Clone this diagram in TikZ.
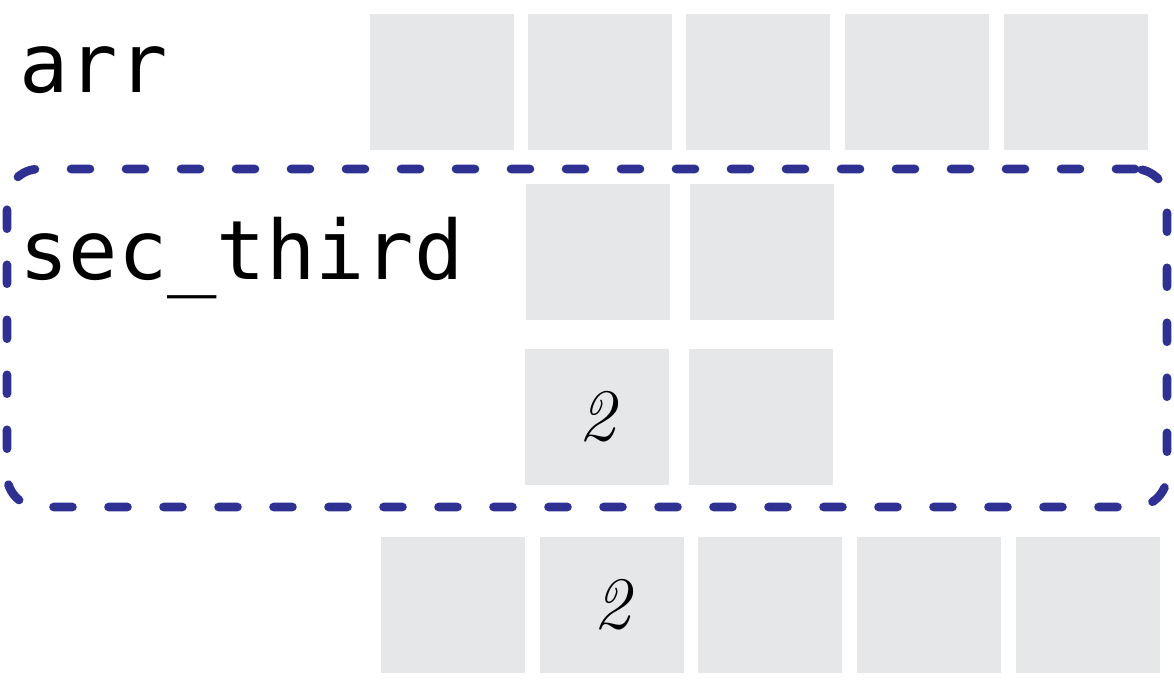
\documentclass[tikz,border=0pt]{standalone}
\usepackage{fontspec}
\setmonofont{DejaVu Sans Mono}
\usepackage{tikz}

\begin{document}
\begin{tikzpicture}
		[x=0.5pt,y=-0.5pt,line cap=round,
		%Styles
		cell/.style={fill=cellgray,minimum width=72pt,minimum height=68pt,inner sep=0pt,
			font=\fontsize{37}{40}\selectfont\itshape},
		name text/.style={anchor=base west,inner sep=0pt,font=\ttfamily\fontsize{41}{48}\selectfont},
		sec frame/.style={draw=framblue,line width=4.3pt,dash pattern=on 9.5pt off 18pt,
			rounded corners=16pt,minimum width=580pt,minimum height=169pt,inner sep=0pt}
		]
		
		%Colors
		\definecolor{cellgray}{HTML}{E6E7E9}
		\definecolor{framblue}{HTML}{2E3192}
		
		\useasboundingbox (0,0) rectangle (1174,688);
		
		%The graphic
		\node[name text] (arr) at (19,93) {arr};
		\node[cell] (a0) at (442,82) {};
		\node[cell] (a1) at (600,82) {};
		\node[cell] (a2) at (758,82) {};
		\node[cell] (a3) at (917,82) {};
		\node[cell] (a4) at (1076,82) {};
		
		\node[sec frame] (sec) at (587,338) {};
		\node[name text] (secname) at (19,280) {sec\_third};
		\node[cell] (s00) at (598,252) {};
		\node[cell] (s01) at (762,252) {};
		\node[cell] (s10) at (597,417) {2};
		\node[cell] (s11) at (761,417) {};
		
		\node[cell] (b0) at (453,605) {};
		\node[cell] (b1) at (612,605) {2};
		\node[cell] (b2) at (770,605) {};
		\node[cell] (b3) at (929,605) {};
		\node[cell] (b4) at (1088,605) {};
	\end{tikzpicture}
\end{document}
